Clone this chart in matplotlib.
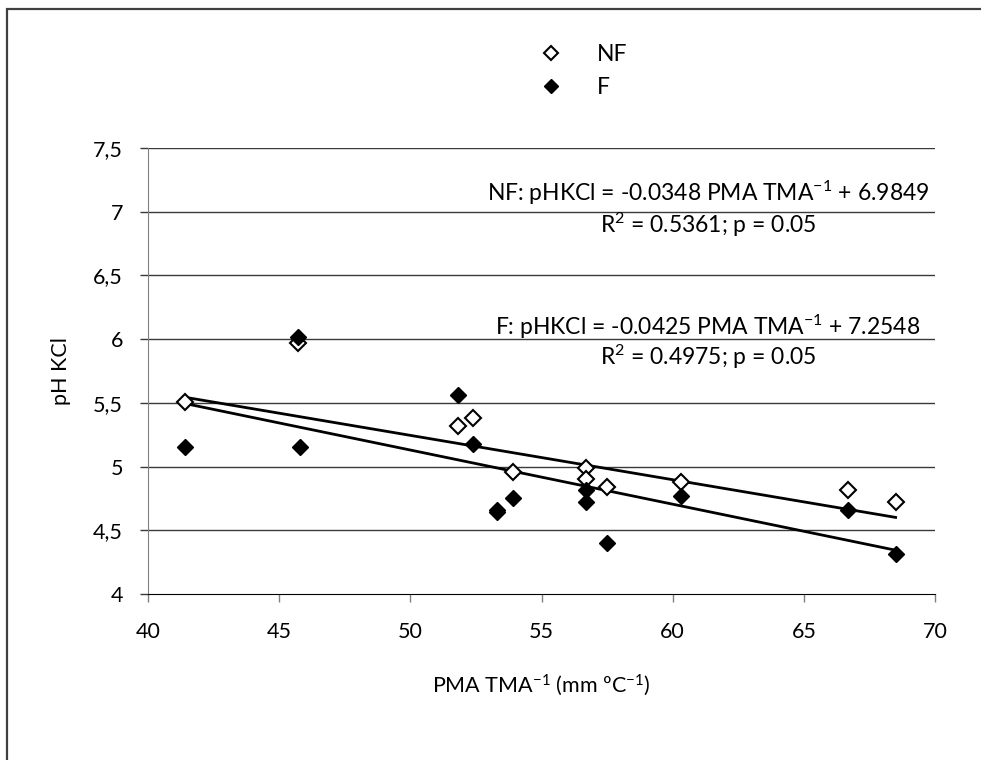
import matplotlib
matplotlib.use('Agg')
import matplotlib.pyplot as plt
from matplotlib.patches import Rectangle
import numpy as np

plt.rcParams['font.family'] = ['Lato', 'DejaVu Sans']
plt.rcParams['mathtext.fontset'] = 'custom'
plt.rcParams['mathtext.rm'] = 'Lato'
plt.rcParams['mathtext.it'] = 'Lato:italic'

# NF (open diamonds)
nf_x = [41.4, 45.7, 51.8, 52.4, 53.9, 56.7, 56.7, 57.5, 60.3, 66.7, 68.5]
nf_y = [5.51, 5.97, 5.32, 5.38, 4.96, 4.99, 4.90, 4.84, 4.88, 4.82, 4.72]

# F (filled diamonds)
f_x = [41.4, 45.7, 45.8, 51.8, 52.4, 53.3, 53.3, 53.9, 56.7, 56.7, 57.5, 60.3, 66.7, 68.5]
f_y = [5.15, 6.02, 5.15, 5.56, 5.18, 4.66, 4.64, 4.75, 4.82, 4.72, 4.40, 4.77, 4.66, 4.31]

# regression coefficients (slope, intercept)
nf_fit = (-0.0348, 6.9849)
f_fit = (-0.0425, 7.2548)

y_ticks = [4, 4.5, 5, 5.5, 6, 6.5, 7, 7.5]
y_ticklabels = ['4', '4,5', '5', '5,5', '6', '6,5', '7', '7,5']
x_ticks = [40, 45, 50, 55, 60, 65, 70]

fig = plt.figure(figsize=(9.81, 7.60), dpi=100)
ax = fig.add_axes([148 / 981, 166 / 760, 787 / 981, 446 / 760])

# outer chart frame (only top and left edges are inside the image)
fig.patches.append(Rectangle((6.5 / 981, -0.1), 1.2, (760 - 9) / 760 + 0.1,
                             transform=fig.transFigure, fill=False,
                             edgecolor='#404040', linewidth=1.6))

for yv in y_ticks[1:]:
    ax.axhline(yv, color='#3a3a3a', linewidth=1.0, zorder=1)

# trend lines from the fitted equations
for fit, xs in [(nf_fit, nf_x), (f_fit, f_x)]:
    xl = np.array([min(xs), max(xs)])
    ax.plot(xl, fit[0] * xl + fit[1], color='black', linewidth=2.0, zorder=2)

ax.plot(nf_x, nf_y, linestyle='none', marker='D', markersize=8.5,
        markerfacecolor='white', markeredgecolor='black', markeredgewidth=1.5,
        zorder=3, label='NF')
ax.plot(f_x, f_y, linestyle='none', marker='D', markersize=8.5,
        markerfacecolor='black', markeredgecolor='black', zorder=4, label='F')

ax.set_xlim(40, 70)
ax.set_ylim(4, 7.5)
ax.set_xticks(x_ticks)
ax.set_yticks(y_ticks)
ax.set_yticklabels(y_ticklabels)
ax.tick_params(axis='both', labelsize=15.5, length=6, width=1, direction='out')
ax.tick_params(axis='y', colors='#3a3a3a', labelcolor='black', pad=12)
ax.tick_params(axis='x', color='#808080', labelcolor='black', pad=14)

for side in ['top', 'right']:
    ax.spines[side].set_visible(False)
ax.spines['left'].set_color('#808080')
ax.spines['bottom'].set_color('black')

ax.set_xlabel('PMA TMA$^{\\mathregular{-1}}$ (mm ºC$^{\\mathregular{-1}}$)', fontsize=15.5, labelpad=22)
ax.set_ylabel('pH KCl', fontsize=15.5, labelpad=16)

cx = (708 - 148) / 787
ax.text(cx, 0.899, 'NF: pHKCl = -0.0348 PMA TMA$^{\\mathregular{-1}}$ + 6.9849',
        transform=ax.transAxes, ha='center', va='center', fontsize=16.5)
ax.text(cx, 0.827, 'R$^{\\mathregular{2}}$ = 0.5361; p = 0.05',
        transform=ax.transAxes, ha='center', va='center', fontsize=16.5)
ax.text(cx, 0.599, 'F: pHKCl = -0.0425 PMA TMA$^{\\mathregular{-1}}$ + 7.2548',
        transform=ax.transAxes, ha='center', va='center', fontsize=16.5)
ax.text(cx, 0.531, 'R$^{\\mathregular{2}}$ = 0.4975; p = 0.05',
        transform=ax.transAxes, ha='center', va='center', fontsize=16.5)

leg = fig.legend(loc='center', bbox_to_anchor=(578 / 981, 1 - 71 / 760),
                 frameon=False, fontsize=16.5, handletextpad=1.0,
                 labelspacing=0.55, markerscale=0.85)

plt.savefig('out.png', dpi=100)
plt.close()
